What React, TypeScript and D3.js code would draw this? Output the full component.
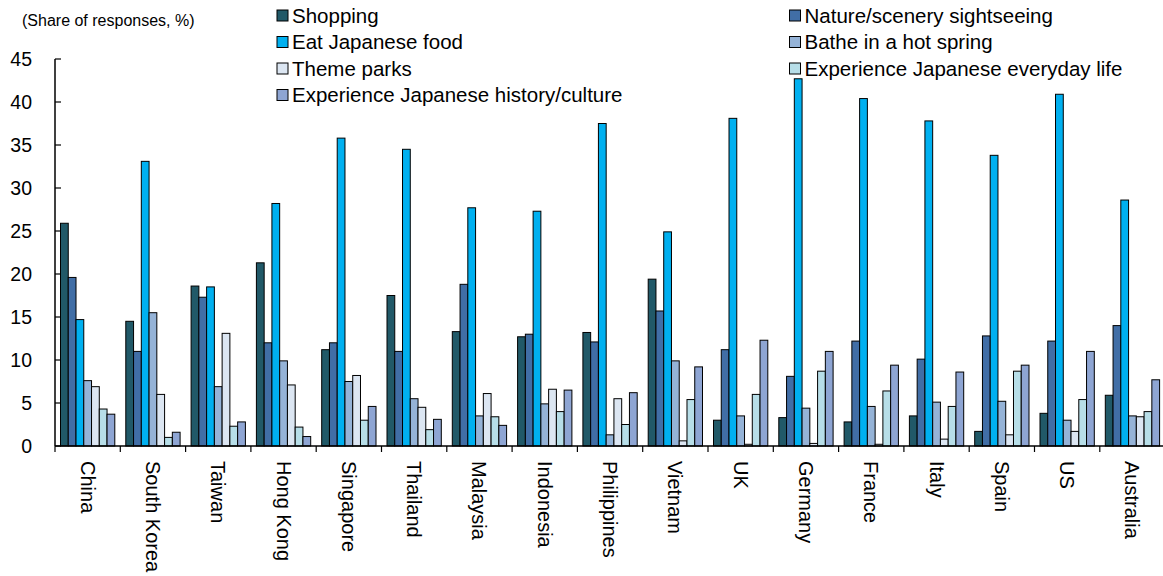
import React from "react";
import * as d3 from "d3";

const categories = ["China","South Korea","Taiwan","Hong Kong","Singapore","Thailand","Malaysia","Indonesia","Philippines","Vietnam","UK","Germany","France","Italy","Spain","US","Australia"];
const seriesNames = ["Shopping","Nature/scenery sightseeing","Eat Japanese food","Bathe in a hot spring","Theme parks","Experience Japanese everyday life","Experience Japanese history/culture"];
const seriesColors = ["#215968","#416EA6","#00B0F0","#95B3D7","#DCE6F2","#B7DEE8","#8EA5D3"];
const shopping = [25.9,14.5,18.6,21.3,11.2,17.5,13.3,12.7,13.2,19.4,3.0,3.3,2.8,3.5,1.7,3.8,5.9];
const nature = [19.6,11.0,17.3,12.0,12.0,11.0,18.8,13.0,12.1,15.7,11.2,8.1,12.2,10.1,12.8,12.2,14.0];
const eatFood = [14.7,33.1,18.5,28.2,35.8,34.5,27.7,27.3,37.5,24.9,38.1,42.7,40.4,37.8,33.8,40.9,28.6];
const hotSpring = [7.6,15.5,6.9,9.9,7.5,5.5,3.5,4.9,1.3,9.9,3.5,4.4,4.6,5.1,5.2,3.0,3.5];
const themeParks = [6.9,6.0,13.1,7.1,8.2,4.5,6.1,6.6,5.5,0.6,0.2,0.3,0.2,0.8,1.3,1.7,3.4];
const everydayLife = [4.3,1.0,2.3,2.2,3.0,1.9,3.4,4.0,2.5,5.4,6.0,8.7,6.4,4.6,8.7,5.4,4.0];
const historyCulture = [3.7,1.6,2.8,1.1,4.6,3.1,2.4,6.5,6.2,9.2,12.3,11.0,9.4,8.6,9.4,11.0,7.7];
const yTicks = [0,5,10,15,20,25,30,35,40,45];
const unitLabel = "(Share of responses, %)";

const seriesValues = [shopping, nature, eatFood, hotSpring, themeParks, everydayLife, historyCulture];

export default function App() {
  const W = 1163, H = 576;
  const x0 = 55, step = 65.3;
  const x = d3.scaleBand<string>().domain(categories).range([x0, x0 + step * categories.length]).padding(0);
  const xs = d3.scaleBand<number>().domain(d3.range(seriesNames.length)).range([5.5, step - 5.5]).padding(0);
  const y = d3.scaleLinear().domain([0, 45]).range([446, 59]);
  const font = "'Liberation Sans', Arial, sans-serif";
  const legendRows = [15.5, 42, 68.5, 95];

  return (
    <svg width={W} height={H} style={{ position: "absolute", left: 0, top: 0, background: "#fff" }} fontFamily={font}>
      <text x={22} y={26} fontSize={16} fill="#000">{unitLabel}</text>
      {categories.map((c, ci) => (
        <g key={c} transform={`translate(${x(c)},0)`}>
          {seriesValues.map((vals, si) => (
            <rect key={si} x={xs(si)} y={y(vals[ci])} width={xs.bandwidth()} height={y(0) - y(vals[ci])}
              fill={seriesColors[si]} stroke="#000" strokeWidth={1} />
          ))}
        </g>
      ))}
      <line x1={x0} x2={x0} y1={y(45)} y2={y(0)} stroke="#000" strokeWidth={1.5} />
      {yTicks.map(t => (
        <g key={t}>
          <line x1={x0} x2={x0 + 6} y1={y(t)} y2={y(t)} stroke="#000" strokeWidth={1.2} />
          <text x={32} y={y(t)} dy="0.35em" textAnchor="end" fontSize={19.5} fill="#000">{t}</text>
        </g>
      ))}
      <line x1={x0} x2={W} y1={y(0)} y2={y(0)} stroke="#000" strokeWidth={1.5} />
      {categories.map((c, i) => (
        <line key={c} x1={x0 + step * i} x2={x0 + step * i} y1={y(0)} y2={y(0) + 6} stroke="#000" strokeWidth={1.2} />
      ))}
      {categories.map(c => (
        <text key={c} transform={`translate(${(x(c) as number) + step / 2},461) rotate(90)`} dy="0.35em" fontSize={20} fill="#000">{c}</text>
      ))}
      {seriesNames.map((n, i) => {
        const col = i % 2, row = Math.floor(i / 2);
        const sx = col === 0 ? 277 : 789.5;
        const cy = legendRows[row];
        return (
          <g key={n}>
            <rect x={sx} y={cy - 5.5} width={11} height={11} fill={seriesColors[i]} stroke="#000" strokeWidth={1} />
            <text x={sx + 15} y={cy} dy="0.35em" fontSize={20.5} fill="#000">{n}</text>
          </g>
        );
      })}
    </svg>
  );
}
